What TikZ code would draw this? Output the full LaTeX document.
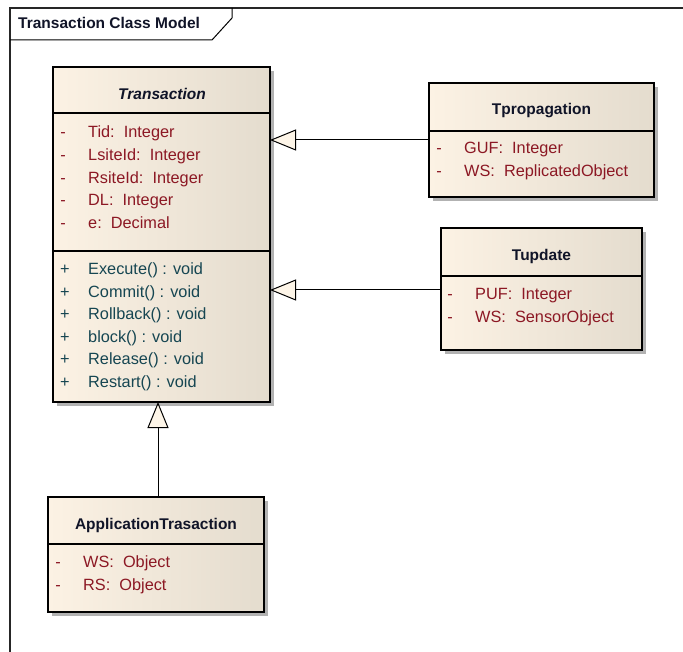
\documentclass[tikz,border=0pt]{standalone}
\usepackage{fontspec}
\setmainfont{Liberation Sans}
\usetikzlibrary{arrows.meta,shadows}
\definecolor{clsL}{RGB}{252,242,228}
\definecolor{clsR}{RGB}{228,220,206}
\definecolor{attrcol}{RGB}{140,24,36}
\definecolor{opcol}{RGB}{22,70,82}
\definecolor{ttlcol}{RGB}{16,20,40}
\definecolor{tipfill}{RGB}{253,245,232}
\newcommand\umlrow[7]{%
  \node[rowtxt, text=#2, anchor=base] (#1m) at (#3,#5) {#6};
  \node[rowtxt, text=#2, anchor=base west] (#1) at (#4,#5) {#7};}
\begin{document}
\begin{tikzpicture}[x=1pt,y=-1pt,
  font=\fontsize{15.5}{18}\selectfont,
  classbox/.style={draw=black, line width=1.2pt, left color=clsL, right color=clsR,
    inner sep=0pt, outer sep=0pt, anchor=north west,
    drop shadow={shadow xshift=4pt, shadow yshift=-4pt, fill=black!30, opacity=1}},
  divline/.style={draw=black, line width=1.2pt},
  rowtxt/.style={inner sep=0pt, font=\fontsize{16.3}{19}\selectfont},
  ttl/.style={inner sep=0pt, anchor=base, text=ttlcol, font=\fontsize{15.5}{18}\selectfont\bfseries},
  gen/.style={draw=black, line width=1pt, -{Triangle[length=26pt, width=21pt, fill=tipfill]}},
  frameline/.style={draw=black!85, line width=1.5pt}]
\useasboundingbox (0,0) rectangle (683,652);

% frame
\draw[frameline] (10,652) -- (10,8) -- (683,8);
\draw[draw=black, line width=1pt] (10,40) -- (212,40) -- (232,18) -- (232,8);
\node[ttl, anchor=base west] (frametitle) at (18,28.3) {Transaction Class Model};

% Transaction
\node[classbox, minimum width=217pt, minimum height=335pt] (trans) at (53,67) {};
\draw[divline] (53,113) -- (270,113);
\draw[divline] (53,251) -- (270,251);
\node[ttl, font=\fontsize{15.5}{18}\selectfont\bfseries\itshape] (transT) at (162,99.3) {Transaction};
\umlrow{ta1}{attrcol}{63}{88}{137.5}{-}{Tid:\ \ Integer}
\umlrow{ta2}{attrcol}{63}{88}{160.5}{-}{LsiteId:\ \ Integer}
\umlrow{ta3}{attrcol}{63}{88}{183.2}{-}{RsiteId:\ \ Integer}
\umlrow{ta4}{attrcol}{63}{88}{206}{-}{DL:\ \ Integer}
\umlrow{ta5}{attrcol}{63}{88}{228.5}{-}{e:\ \ Decimal}
\umlrow{to1}{opcol}{65}{88}{275}{+}{Execute() : void}
\umlrow{to2}{opcol}{65}{88}{297.5}{+}{Commit() : void}
\umlrow{to3}{opcol}{65}{88}{320}{+}{Rollback() : void}
\umlrow{to4}{opcol}{65}{88}{342.5}{+}{block() : void}
\umlrow{to5}{opcol}{65}{88}{365}{+}{Release() : void}
\umlrow{to6}{opcol}{65}{88}{387.5}{+}{Restart() : void}

% Tpropagation
\node[classbox, minimum width=225pt, minimum height=114pt] (tprop) at (429,83) {};
\draw[divline] (429,131) -- (654,131);
\node[ttl] (tpropT) at (541.5,115) {Tpropagation};
\umlrow{tp1}{attrcol}{439}{464}{154}{-}{GUF:\ \ Integer}
\umlrow{tp2}{attrcol}{439}{464}{176.7}{-}{WS:\ \ ReplicatedObject}

% Tupdate
\node[classbox, minimum width=201pt, minimum height=122pt] (tupd) at (441,228) {};
\draw[divline] (441,276) -- (642,276);
\node[ttl] (tupdT) at (541.5,260.7) {Tupdate};
\umlrow{tu1}{attrcol}{450}{475}{300}{-}{PUF:\ \ Integer}
\umlrow{tu2}{attrcol}{450}{475}{322.7}{-}{WS:\ \ SensorObject}

% ApplicationTrasaction
\node[classbox, minimum width=216pt, minimum height=115pt] (app) at (48,497) {};
\draw[divline] (48,544) -- (264,544);
\node[ttl] (appT) at (156,529.3) {ApplicationTrasaction};
\umlrow{ap1}{attrcol}{58}{83}{567.7}{-}{WS:\ \ Object}
\umlrow{ap2}{attrcol}{58}{83}{590}{-}{RS:\ \ Object}

% generalizations
\coordinate (c1) at (0,140);
\coordinate (c2) at (0,290);
\coordinate (c3) at (158,0);
\draw[gen] (tprop.west |- c1) -- (trans.east |- c1);
\draw[gen] (tupd.west |- c2) -- (trans.east |- c2);
\draw[gen] (app.north -| c3) -- (trans.south -| c3);
\end{tikzpicture}
\end{document}
